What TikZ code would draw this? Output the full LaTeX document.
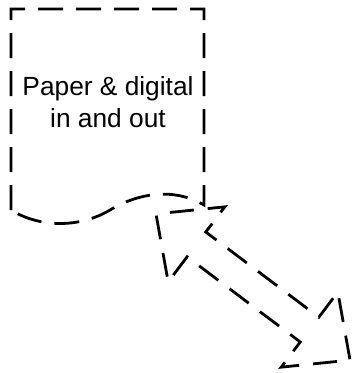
\documentclass[tikz,border=0pt]{standalone}
\usepackage{fontspec}
\setmainfont{Liberation Sans}
\begin{document}
\begin{tikzpicture}[x=1pt,y=-1pt,
  outline/.style={line width=2.8pt, draw=black},
  docdash/.style={dash pattern=on 25pt off 13pt, dash phase=0pt},
  arrowdash/.style={dash pattern=on 24pt off 14pt, dash phase=24pt},
  labeltext/.style={font=\fontsize{26.3}{32.5}\selectfont, align=center, inner sep=0pt}]
\useasboundingbox (0,0) rectangle (356,373);
% document shape
\draw[outline, docdash] (11,210) -- (11,9) -- (204,9) -- (204,205)
  .. controls (175,188) and (140,192) .. (110,210)
  .. controls (80,228) and (40,228) .. (11,210);
\node[labeltext] (label) at (108,102) {Paper \& digital\\in and out};
% double block arrow
\begin{scope}[shift={(253,287)}, rotate=-37]
  \coordinate (T1) at (-121.5,0);
  \coordinate (W1a) at (-70.8,-47);
  \coordinate (P1) at (-70.8,-15.5);
  \coordinate (P2) at (70.8,-15.5);
  \coordinate (W2a) at (70.8,-47);
  \coordinate (T2) at (121.5,0);
  \coordinate (W2b) at (70.8,47);
  \coordinate (P3) at (70.8,15.5);
  \coordinate (P4) at (-70.8,15.5);
  \coordinate (W1b) at (-70.8,47);
\end{scope}
\draw[outline, arrowdash] (T1) -- (W1a) -- (P1) -- (P2) -- (W2a) -- (T2) -- (W2b) -- (P3) -- (P4) -- (W1b) -- cycle;
\end{tikzpicture}
\end{document}
